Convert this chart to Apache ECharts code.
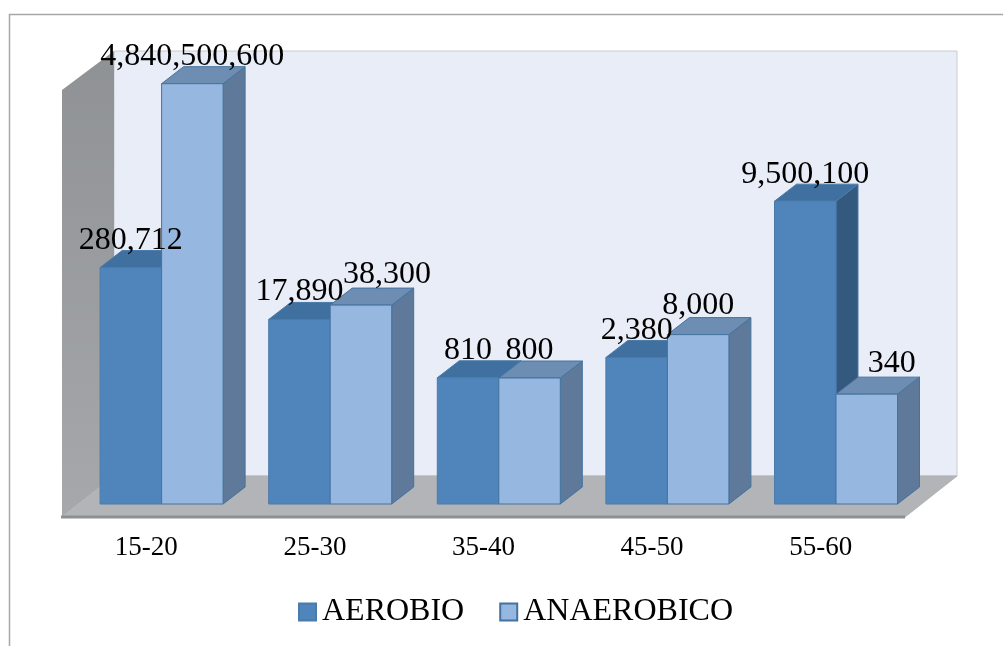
<!DOCTYPE html>
<html>
<head>
<meta charset="utf-8">
<style>html,body{margin:0;padding:0;background:#fff}#chart{width:1003px;height:646px}</style>
<script src="https://cdn.jsdelivr.net/npm/echarts@6/dist/echarts.min.js"></script>
</head>
<body>
<div id="chart"></div>
<script>
// Age groups and measured values for each series
const categories = ['15-20', '25-30', '35-40', '45-50', '55-60'];
const aerobio = [280712, 17890, 810, 2380, 9500100];
const anaerobico = [4840500600, 38300, 800, 8000, 340];

// Hidden logarithmic value range
const axisMin = 1;
const axisMax = 6.9e9;

// Plot box on the front plane, and the isometric depth of the box
const GRID = { left: 62, top: 90, width: 843, height: 427 };
const DEPTH = { dx: 52, dy: 41 };
const BAR = { width: 61.5, groupShift: 15.3, frontDy: 13, dx: 22, dy: 17 };
const SERIF = '"Liberation Serif", "Times New Roman", serif';
const LABEL_FONT = 32;
const LABEL_RISE = 27;

// Labels nudged off their default spot so they do not collide with a neighbour
const labelShift = {
  'AEROBIO|25-30': [0, -1],
  'ANAEROBICO|25-30': [26, -3],
  'ANAEROBICO|45-50': [0, -2],
  'ANAEROBICO|55-60': [25, -4]
};

const COLORS = {
  AEROBIO: { front: '#5085BC', top: '#3F709F', side: '#33597E', line: '#4A7BAA' },
  ANAEROBICO: { front: '#95B7E0', top: '#6E8DB3', side: '#5E7999', line: '#44739F' }
};

function face(points, fill, stroke) {
  return {
    type: 'polygon',
    shape: { points },
    style: { fill, stroke: stroke || fill, lineWidth: 1 }
  };
}

// Draws one box-shaped bar: front, top and side faces plus its value label
function boxBar(name, slot) {
  const c = COLORS[name];
  return function (params, api) {
    const cat = api.value(0);
    const value = api.value(1);
    const top = api.coord([cat, value]);
    const base = api.coord([cat, axisMin]);
    const x0 = top[0] + BAR.groupShift + (slot - 1) * BAR.width;
    const x1 = x0 + BAR.width;
    const yT = top[1] - BAR.frontDy;
    const yB = base[1] - BAR.frontDy;
    const d = BAR;
    const shift = labelShift[name + '|' + categories[params.dataIndex]] || [0, 0];
    return {
      type: 'group',
      children: [
        face([[x1, yT], [x1 + d.dx, yT - d.dy], [x1 + d.dx, yB - d.dy], [x1, yB]], c.side, c.line),
        face([[x0, yT], [x0 + d.dx, yT - d.dy], [x1 + d.dx, yT - d.dy], [x1, yT]], c.top, c.line),
        face([[x0, yT], [x1, yT], [x1, yB], [x0, yB]], c.front, c.line),
        {
          type: 'text',
          z2: 10,
          style: {
            text: value.toLocaleString('en-US'),
            x: (x0 + x1) / 2 + shift[0],
            y: yT - LABEL_RISE + shift[1],
            align: 'center',
            verticalAlign: 'middle',
            font: LABEL_FONT + 'px ' + SERIF,
            fill: '#000'
          }
        }
      ]
    };
  };
}

// Back wall, side wall and floor of the box
function frame() {
  const l = GRID.left, r = GRID.left + GRID.width;
  const t = GRID.top, b = GRID.top + GRID.height;
  const dx = DEPTH.dx, dy = DEPTH.dy;
  return {
    type: 'group',
    children: [
      face([[l + dx, t - dy + 2], [r + dx, t - dy + 2], [r + dx, b - dy], [l + dx, b - dy]], '#E9EDF7', '#C9CBCF'),
      {
        type: 'polygon',
        shape: { points: [[l, t], [l + dx, t - dy + 2], [l + dx, b - dy], [l, b]] },
        style: {
          fill: { type: 'linear', x: 0, y: 0, x2: 0, y2: 1, colorStops: [
            { offset: 0, color: '#8F9295' }, { offset: 1, color: '#A6A8AB' }
          ] }
        }
      },
      face([[l, b], [r, b], [r + dx, b - dy], [l + dx, b - dy]], '#B2B4B7'),
      { type: 'line', shape: { x1: l - 1, y1: b, x2: r, y2: b }, style: { stroke: '#8E8F90', lineWidth: 3 } }
    ]
  };
}

const toPairs = values => values.map((v, i) => [categories[i], v]);

const chart = echarts.init(document.getElementById('chart'), null, { renderer: 'canvas' });
chart.setOption({
  backgroundColor: '#fff',
  animation: false,
  grid: GRID,
  xAxis: {
    type: 'category',
    data: categories,
    axisLine: { show: false },
    axisTick: { show: false },
    axisLabel: { color: '#000', fontFamily: SERIF, fontSize: 27, margin: 17 }
  },
  yAxis: {
    type: 'log',
    show: false,
    min: axisMin,
    max: axisMax,
    splitLine: { show: false }
  },
  legend: {
    data: ['AEROBIO', 'ANAEROBICO'],
    left: 293,
    top: 591,
    icon: 'rect',
    itemWidth: 17,
    itemHeight: 17,
    itemGap: 35,
    textStyle: { color: '#000', fontFamily: SERIF, fontSize: 32, padding: [0, 0, 0, 1] }
  },
  series: [
    {
      type: 'custom', name: 'frame', silent: true, clip: false,
      data: [[categories[0], axisMin]],
      encode: { x: 0, y: 1 },
      renderItem: frame
    },
    {
      type: 'custom', name: 'AEROBIO', clip: false,
      itemStyle: { color: COLORS.AEROBIO.front, borderColor: COLORS.AEROBIO.line, borderWidth: 1 },
      data: toPairs(aerobio),
      encode: { x: 0, y: 1 },
      renderItem: boxBar('AEROBIO', 0)
    },
    {
      type: 'custom', name: 'ANAEROBICO', clip: false,
      itemStyle: { color: COLORS.ANAEROBICO.front, borderColor: COLORS.ANAEROBICO.line, borderWidth: 1 },
      data: toPairs(anaerobico),
      encode: { x: 0, y: 1 },
      renderItem: boxBar('ANAEROBICO', 1)
    }
  ],
  graphic: [{
    type: 'polyline',
    silent: true,
    shape: { points: [[9.5, 646], [9.5, 14.5], [1003, 14.5]] },
    style: { stroke: '#A6A6A6', lineWidth: 1.5, fill: null }
  }]
});
</script>
</body>
</html>
